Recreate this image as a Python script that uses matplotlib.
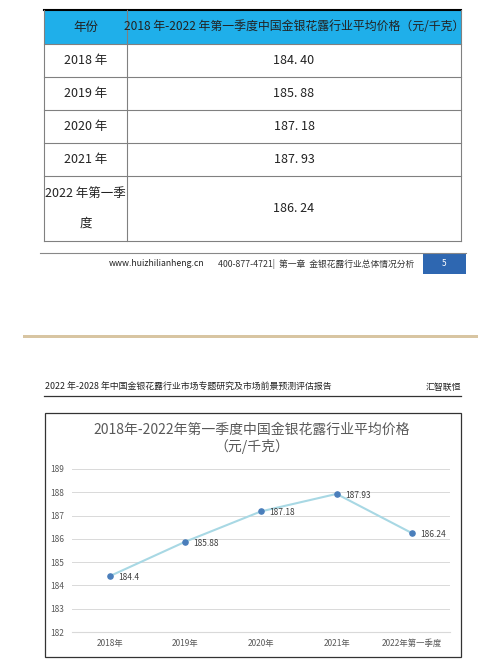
import matplotlib
matplotlib.use("Agg")
import matplotlib.pyplot as plt
from matplotlib.patches import Rectangle
from matplotlib.lines import Line2D

plt.rcParams['font.family'] = ['Noto Sans CJK SC', 'DejaVu Sans']

years_table = ["2018 年", "2019 年", "2020 年", "2021 年", "2022 年第一季\n\n度"]
values = [184.40, 185.88, 187.18, 187.93, 186.24]
categories = ["2018年", "2019年", "2020年", "2021年", "2022年第一季度"]
yticks = [182, 183, 184, 185, 186, 187, 188, 189]

W, H = 501, 668
fig = plt.figure(figsize=(W / 100, H / 100), dpi=100)

def fx(x): return x / W
def fy(y): return 1 - y / H

def hline(x0, x1, y, c, lw):
    fig.add_artist(Line2D([fx(x0), fx(x1)], [fy(y), fy(y)], color=c, lw=lw))

def vline(x, y0, y1, c, lw):
    fig.add_artist(Line2D([fx(x), fx(x)], [fy(y0), fy(y1)], color=c, lw=lw))

def text(x, y, s, **kw):
    fig.text(fx(x), fy(y), s, **kw)

# ---- table ----
L, R, C = 44, 461, 127
rows = [44, 77, 110, 143, 176, 241]
fig.add_artist(Rectangle((fx(L), fy(rows[0])), fx(R - L), (rows[0] - 10) / H,
                         facecolor='#1FAFEA', edgecolor='none', zorder=-5))
hline(L, R, 10, 'black', 1.5)
for y in rows:
    hline(L, R, y, '#808080', 0.8)
vline(L, 10, 241, '#808080', 0.8)
vline(R, 10, 241, '#808080', 0.8)
vline(C, 10, 241, '#808080', 0.8)
text((L + C) / 2, 27, "年份", ha='center', va='center', fontsize=9, color='#222222')
text((C + R) / 2, 27, "2018 年-2022 年第一季度中国金银花露行业平均价格（元/千克）",
     ha='center', va='center', fontsize=8.6, color='#222222')
for i, (lab, v) in enumerate(zip(years_table, values)):
    yc = (rows[i] + rows[i + 1]) / 2
    text((L + C) / 2, yc, lab, ha='center', va='center', fontsize=9, color='#222222',
         linespacing=1.2)
    text((C + R) / 2, yc, f"{v:.2f}".replace('.', '. '), ha='center', va='center',
         fontsize=9, color='#222222')

# ---- footer ----
hline(40, 466, 253, '#888888', 0.8)
text(204, 264, "www.huizhilianheng.cn", ha='right', va='center', fontsize=6.3, color='#222222')
text(218, 264, "400-877-4721|  第一章  金银花露行业总体情况分析", ha='left', va='center',
     fontsize=6.3, color='#333333')
fig.add_artist(Rectangle((fx(423), fy(274)), fx(466 - 423), 21 / H,
                         facecolor='#2E67B1', edgecolor='none', zorder=-5))
text(444, 263, "5", ha='center', va='center', fontsize=6, color='white')

# ---- page separator ----
fig.add_artist(Rectangle((fx(23), fy(338)), fx(478 - 23), 3 / H,
                         facecolor='#D8C5A2', edgecolor='none', zorder=-5))

# ---- page header ----
text(45, 387, "2022 年-2028 年中国金银花露行业市场专题研究及市场前景预测评估报告",
     ha='left', va='center', fontsize=6.4, color='#222222')
text(461, 387, "汇智联恒", ha='right', va='center', fontsize=6.4, color='#222222')
hline(44, 461, 396, '#333333', 0.9)

# ---- chart box ----
fig.add_artist(Rectangle((fx(45), fy(657)), fx(461 - 45), (657 - 413) / H,
                         facecolor='none', edgecolor='#333333', lw=0.9, zorder=-5))
text(252, 430, "2018年-2022年第一季度中国金银花露行业平均价格", ha='center', va='center',
     fontsize=10, color='#595959')
text(252, 446, "（元/千克）", ha='center', va='center', fontsize=10, color='#595959')

ax = fig.add_axes([fx(72), fy(632), fx(450 - 72), (632 - 469) / H])
ax.set_zorder(5)
ax.set_facecolor('none')
x = list(range(len(categories)))
ax.plot(x, values, color='#A8D8E4', lw=1.5, zorder=2)
ax.scatter(x, values, s=14, color='#4A7EBB', zorder=3)
for xi, v in zip(x, values):
    ax.annotate(f"{v:g}", (xi, v), xytext=(6, -1), textcoords='offset points',
                ha='left', va='center', fontsize=6, color='#404040')
ax.set_xlim(-0.5, len(categories) - 0.5)
ax.set_ylim(yticks[0], yticks[-1])
ax.set_yticks(yticks)
ax.set_xticks(x)
ax.set_xticklabels(categories)
ax.grid(axis='y', color='#D9D9D9', lw=0.7)
ax.set_axisbelow(True)
for s in ['top', 'right', 'left']:
    ax.spines[s].set_visible(False)
ax.spines['bottom'].set_color('#D9D9D9')
ax.tick_params(length=0, labelsize=6, colors='#595959', pad=5)
ax.tick_params(axis='y', pad=16)
for t in ax.get_yticklabels():
    t.set_ha('left')

fig.savefig("out.png", dpi=100, facecolor='white')
